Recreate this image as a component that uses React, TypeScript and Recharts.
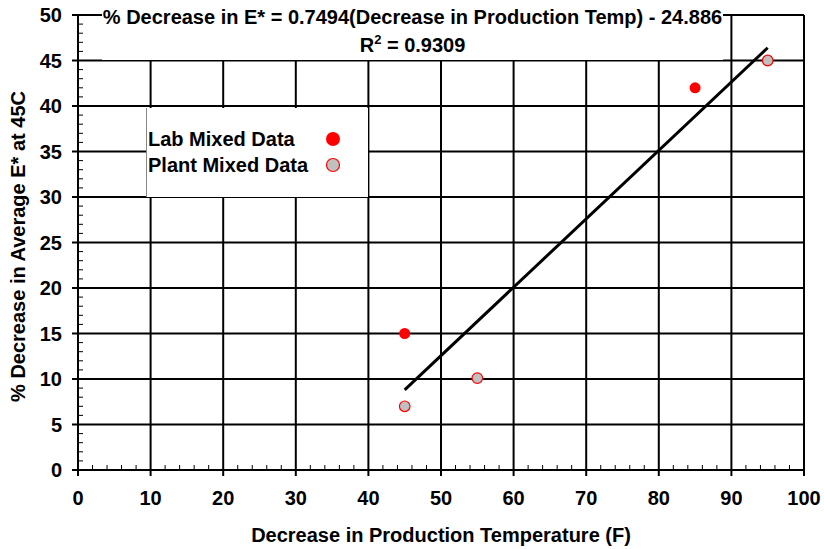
import React from 'react';
import { ScatterChart, Scatter, XAxis, YAxis, ReferenceLine, Label } from 'recharts';

const labMixed = [
  { temp: 45, decrease: 15 },
  { temp: 85, decrease: 42 },
];

const plantMixed = [
  { temp: 45, decrease: 7 },
  { temp: 55, decrease: 10.1 },
  { temp: 95, decrease: 45 },
];

// linear trend line through all the points
const trendLine = [
  { temp: 45, decrease: 8.8 },
  { temp: 95, decrease: 46.4 },
];

const xTicks = [0, 10, 20, 30, 40, 50, 60, 70, 80, 90, 100];
const yTicks = [0, 5, 10, 15, 20, 25, 30, 35, 40, 45, 50];
const xMinorTicks = Array.from({ length: 51 }, (_, i) => i * 2);
const yMinorTicks = Array.from({ length: 51 }, (_, i) => i);

const titleLine = '% Decrease in E* = 0.7494(Decrease in Production Temp) - 24.886';
const rSquared = '0.9309';

const FONT = '"Liberation Sans", Arial, sans-serif';
const W = 824;
const H = 549;
const FS = 20;

const XTick = (props: any) => {
  const { x, y, payload } = props;
  const v = payload.value;
  const major = v % 10 === 0;
  return (
    <g>
      <line x1={x} x2={x} y1={y} y2={major ? y + 6 : y - 5} stroke="#000" strokeWidth={major ? 2 : 1} />
      {major && (
        <text x={x} y={y + 28} textAnchor="middle" dominantBaseline="central"
          fontFamily={FONT} fontWeight="bold" fontSize={FS} fill="#000">
          {v}
        </text>
      )}
    </g>
  );
};

const YTick = (props: any) => {
  const { x, y, payload } = props;
  const v = payload.value;
  const major = v % 5 === 0;
  return (
    <g>
      <line y1={y} y2={y} x1={x} x2={major ? x - 6 : x + 5} stroke="#000" strokeWidth={major ? 2 : 1} />
      {major && (
        <text x={x - 16} y={y} textAnchor="end" dominantBaseline="central"
          fontFamily={FONT} fontWeight="bold" fontSize={FS} fill="#000">
          {v}
        </text>
      )}
    </g>
  );
};

const LabDot = (p: any) => <circle cx={p.cx} cy={p.cy} r={5.5} fill="#ff0000" />;
const PlantDot = (p: any) => (
  <circle cx={p.cx} cy={p.cy} r={5.3} fill="#c0c0c0" stroke="#ff0000" strokeWidth={1.2} />
);
const NoDot = () => <g />;

export default function App() {
  return (
    <div style={{ position: 'relative', width: W, height: H, fontFamily: FONT }}>
      <style>{'body { margin: 0; } .recharts-surface { overflow: visible; }'}</style>
      <ScatterChart width={W} height={H} margin={{ top: 15, right: 20, bottom: 0, left: 0 }}>
        <XAxis
          type="number"
          dataKey="temp"
          domain={[0, 100]}
          ticks={xMinorTicks}
          interval={0}
          tickSize={0}
          tickMargin={0}
          tickLine={false}
          axisLine={false}
          tick={<XTick />}
          height={79}
        >
          <Label
            content={({ viewBox }: any) => (
              <text x={viewBox.x + viewBox.width / 2} y={viewBox.y + 65} textAnchor="middle"
                dominantBaseline="central" fontFamily={FONT} fontWeight="bold" fontSize={FS} fill="#000">
                Decrease in Production Temperature (F)
              </text>
            )}
          />
        </XAxis>
        <YAxis
          type="number"
          dataKey="decrease"
          domain={[0, 50]}
          ticks={yMinorTicks}
          interval={0}
          tickSize={0}
          tickMargin={0}
          tickLine={false}
          axisLine={false}
          tick={<YTick />}
          width={78}
        >
          <Label
            content={({ viewBox }: any) => {
              const cx = viewBox.x + 18;
              const cy = viewBox.y + viewBox.height / 2 + 4;
              return (
                <text x={cx} y={cy} transform={`rotate(-90, ${cx}, ${cy})`} textAnchor="middle"
                  dominantBaseline="central" fontFamily={FONT} fontWeight="bold" fontSize={FS} fill="#000">
                  % Decrease in Average E* at 45C
                </text>
              );
            }}
          />
        </YAxis>
        {xTicks.map((v) => (
          <ReferenceLine key={'gx' + v} x={v} stroke="#000" strokeWidth={2} />
        ))}
        {yTicks.map((v) => (
          <ReferenceLine key={'gy' + v} y={v} stroke="#000" strokeWidth={2} />
        ))}
        <Scatter name="trend" data={trendLine} line={{ stroke: '#000', strokeWidth: 3 }}
          shape={<NoDot />} isAnimationActive={false} />
        <Scatter name="Lab Mixed Data" data={labMixed} shape={<LabDot />} isAnimationActive={false} />
        <Scatter name="Plant Mixed Data" data={plantMixed} shape={<PlantDot />} isAnimationActive={false} />
      </ScatterChart>

      {/* equation box */}
      <div style={{ position: 'absolute', left: 102, top: 0, width: 621, height: 60, background: '#fff' }}>
        <div style={{ position: 'absolute', left: 0, right: 0, top: 6, lineHeight: '22px', textAlign: 'center',
          fontWeight: 'bold', fontSize: FS, whiteSpace: 'nowrap' }}>
          {titleLine}
        </div>
        <div style={{ position: 'absolute', left: 0, right: 0, top: 34, lineHeight: '22px', textAlign: 'center',
          fontWeight: 'bold', fontSize: FS }}>
          R<sup style={{ fontSize: 13, verticalAlign: 'top', lineHeight: '12px' }}>2</sup> = {rSquared}
        </div>
      </div>

      {/* legend */}
      <div style={{ position: 'absolute', left: 146, top: 108, width: 222, height: 89, background: '#fff',
        borderLeft: '1px solid #888', boxSizing: 'border-box' }}>
        <div style={{ position: 'absolute', left: 1, top: 20, fontWeight: 'bold', fontSize: FS, lineHeight: '22px' }}>
          Lab Mixed Data
        </div>
        <div style={{ position: 'absolute', left: 1, top: 46, fontWeight: 'bold', fontSize: FS, lineHeight: '22px' }}>
          Plant Mixed Data
        </div>
        <svg style={{ position: 'absolute', left: 171, top: 16 }} width={30} height={56}>
          <circle cx={15} cy={15} r={7} fill="#ff0000" />
          <circle cx={15} cy={41} r={6.5} fill="#c0c0c0" stroke="#ff0000" strokeWidth={1.2} />
        </svg>
      </div>
    </div>
  );
}
